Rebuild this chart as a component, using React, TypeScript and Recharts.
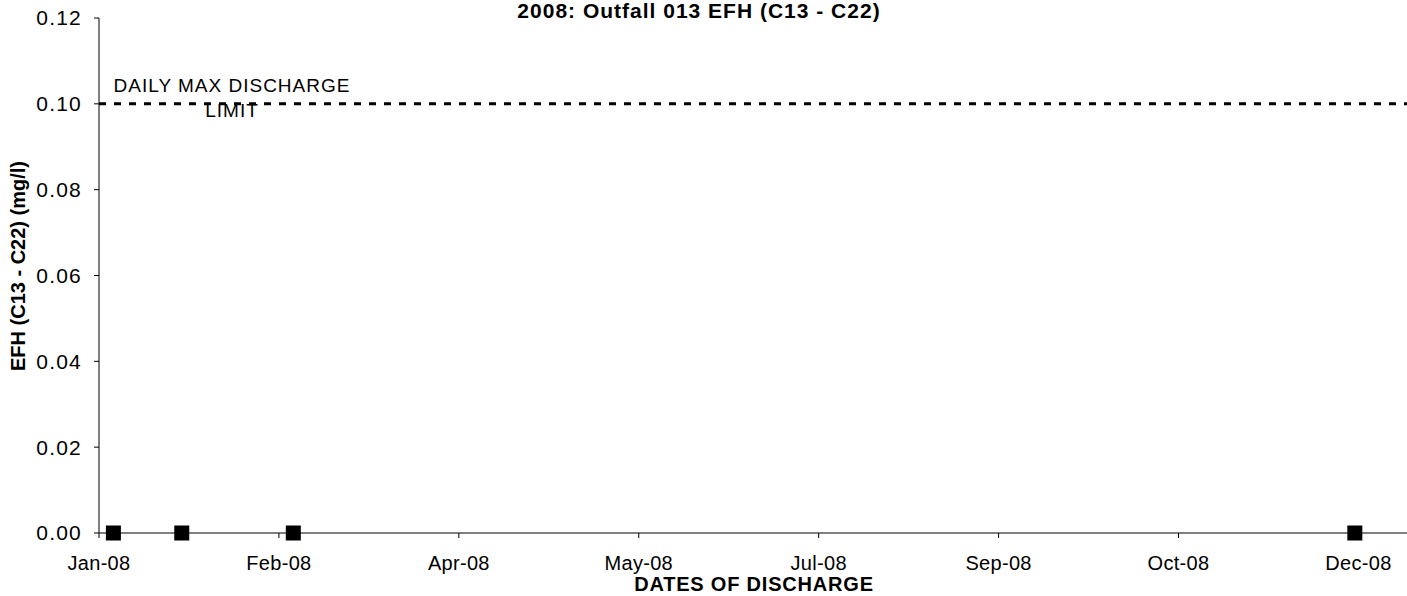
import {
  ScatterChart,
  Scatter,
  XAxis,
  YAxis,
  ReferenceLine,
} from "recharts";

const YEAR_START = Date.UTC(2008, 0, 1);

// sample dates and measured EFH (mg/l)
const sampleDates = ["2008-01-05", "2008-01-24", "2008-02-24", "2008-12-15"];
const efhValues = [0, 0, 0, 0];

const dischargeLimit = 0.1;

// Excel-style date axis: a major unit every 50 days from Jan 1
const xTickDays = [0, 50, 100, 150, 200, 250, 300, 350];
const xTickLabels = ["Jan-08", "Feb-08", "Apr-08", "May-08", "Jul-08", "Sep-08", "Oct-08", "Dec-08"];
const yTicks = [0, 0.02, 0.04, 0.06, 0.08, 0.1, 0.12];

function toDay(s: string) {
  const [y, m, d] = s.split("-").map(Number);
  return (Date.UTC(y, m - 1, d) - YEAR_START) / 86400000;
}

const data = sampleDates.map((d, i) => ({ day: toDay(d), efh: efhValues[i] }));

const FONT = "'Liberation Sans', Arial, sans-serif";

// eslint-disable-next-line @typescript-eslint/no-explicit-any
function SquareDot(props: any) {
  const { cx, cy } = props;
  return <rect x={cx - 7.5} y={cy - 7.5} width={15} height={15} fill="#000" />;
}

// eslint-disable-next-line @typescript-eslint/no-explicit-any
function LimitLabel({ viewBox }: any) {
  const x = viewBox.x + 133;
  return (
    <g fontFamily={FONT} fontSize={19} fill="#000" letterSpacing={1}>
      <text x={x} y={viewBox.y - 12} textAnchor="middle">
        DAILY MAX DISCHARGE
      </text>
      <text x={x} y={viewBox.y + 13} textAnchor="middle">
        LIMIT
      </text>
    </g>
  );
}

export default function App() {
  return (
    <div
      style={{
        position: "absolute",
        left: 0,
        top: 0,
        width: 1407,
        height: 596,
        overflow: "hidden",
        background: "#fff",
      }}
    >
      <ScatterChart
        width={1416}
        height={596}
        margin={{ top: 18, right: 0, bottom: 0, left: 0 }}
      >
        <XAxis
          type="number"
          dataKey="day"
          domain={[0, 366]}
          ticks={xTickDays}
          tickFormatter={(v: number) => xTickLabels[xTickDays.indexOf(v)] ?? ""}
          height={63}
          stroke="#000"
          tickSize={5}
          tickMargin={18}
          tick={{ fill: "#000", fontSize: 20, fontFamily: FONT, letterSpacing: 0.3 }}
          interval={0}
        />
        <YAxis
          type="number"
          dataKey="efh"
          domain={[0, 0.12]}
          ticks={yTicks}
          tickFormatter={(v: number) => v.toFixed(2)}
          width={99}
          stroke="#000"
          tickSize={5}
          tickMargin={12}
          tick={{ fill: "#000", fontSize: 21, fontFamily: FONT, letterSpacing: 1.2 }}
          interval={0}
        />
        <ReferenceLine
          y={dischargeLimit}
          stroke="#000"
          strokeWidth={3}
          strokeDasharray="7 8"
          label={<LimitLabel />}
        />
        <Scatter data={data} shape={<SquareDot />} isAnimationActive={false} />
        <text
          x={699}
          y={18}
          textAnchor="middle"
          fontFamily={FONT}
          fontSize={21}
          fontWeight="bold"
          letterSpacing={1}
          fill="#000"
        >
          2008: Outfall 013 EFH (C13 - C22)
        </text>
        <text
          x={754}
          y={591}
          textAnchor="middle"
          fontFamily={FONT}
          fontSize={20}
          fontWeight="bold"
          letterSpacing={0.8}
          fill="#000"
        >
          DATES OF DISCHARGE
        </text>
        <text
          x={25}
          y={266}
          transform="rotate(-90 25 266)"
          textAnchor="middle"
          fontFamily={FONT}
          fontSize={20}
          fontWeight="bold"
          fill="#000"
        >
          EFH (C13 - C22) (mg/l)
        </text>
      </ScatterChart>
    </div>
  );
}
